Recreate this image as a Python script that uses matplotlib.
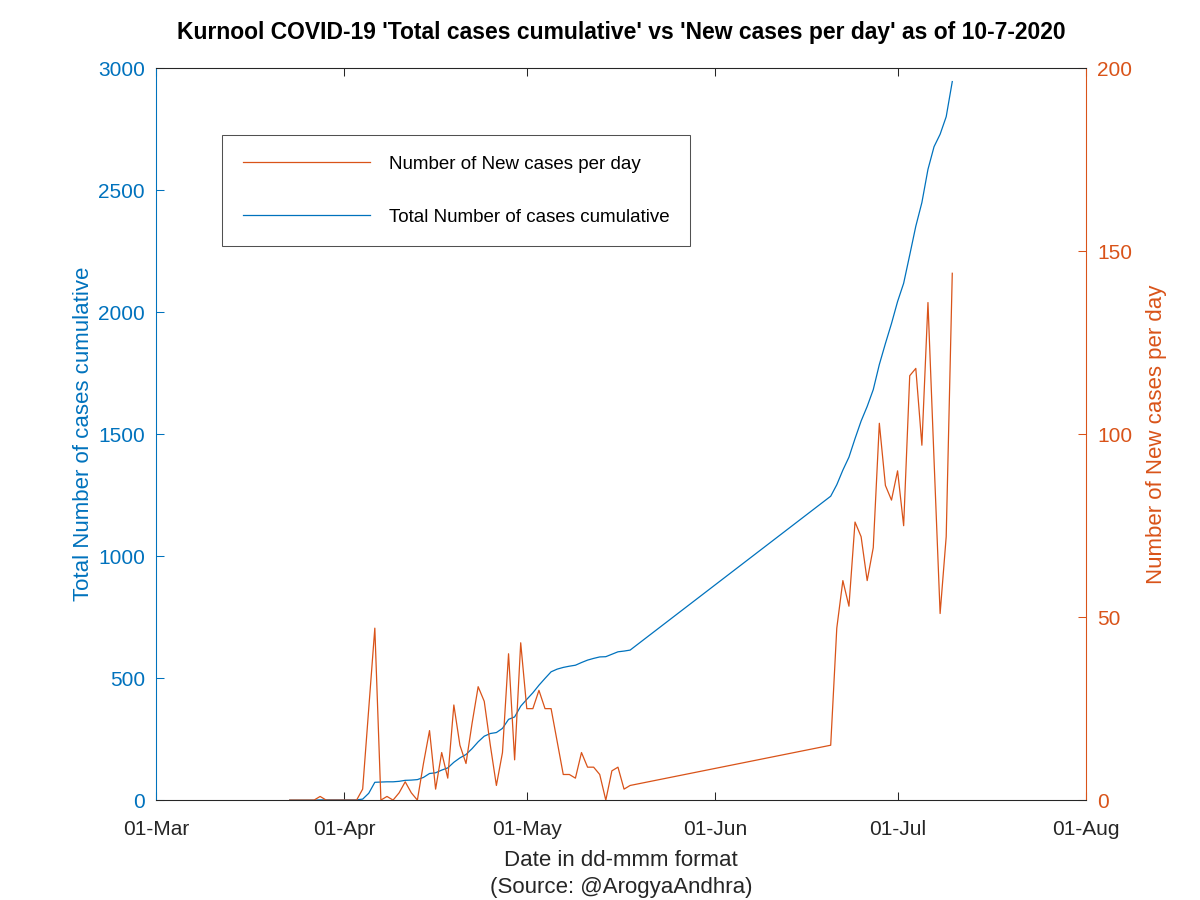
import pandas as pd
import matplotlib
matplotlib.use('Agg')
import matplotlib.pyplot as plt
import matplotlib.dates as mdates

plt.rcParams['font.family'] = ['Liberation Sans', 'DejaVu Sans']

# daily data, two blocks of dates (gap between 18-May and 20-Jun in the source)
dates_a = pd.date_range('2020-03-23', '2020-05-18', freq='D')
dates_b = pd.date_range('2020-06-20', '2020-07-10', freq='D')

new_cases_a = [0, 0, 0, 0, 0, 1, 0, 0, 0,
               0, 0, 0, 3, 25, 47, 0, 1, 0, 2, 5, 2, 0, 10, 19, 3, 13, 6, 26, 15,
               10, 21, 31, 27, 15, 4, 13, 40, 11, 43,
               25, 25, 30, 25, 25, 16, 7, 7, 6, 13, 9, 9, 7, 0, 8, 9, 3, 4]
new_cases_b = [15, 47, 60, 53, 76, 72, 60, 69, 103, 86, 82, 90, 75, 116, 118,
               97, 136, 93, 51, 72, 144]

total_a = [0, 0, 0, 0, 0, 1, 1, 1, 1,
           1, 1, 1, 4, 28, 73, 74, 75, 75, 77, 81, 82, 84, 93, 109, 112, 123, 132,
           155, 173, 187, 211, 239, 262, 273, 277, 294, 331, 341, 385,
           413, 440, 471, 499, 526, 537, 544, 549, 553, 564, 574, 581, 587, 588,
           598, 608, 611, 615]
total_b = [1246, 1293, 1353, 1406, 1482, 1554, 1614, 1683, 1786, 1872, 1954,
           2044, 2119, 2235, 2353, 2450, 2586, 2679, 2730, 2802, 2946]

dates = dates_a.append(dates_b)
new_cases = new_cases_a + new_cases_b
total = total_a + total_b

blue = '#0072BD'
orange = '#D95319'
dark = '#262626'

fig = plt.figure(figsize=(12, 9), dpi=100)
ax = fig.add_axes([0.13, 0.111, 0.775, 0.813])
ax2 = ax.twinx()

l_total, = ax.plot(dates, total, color=blue, lw=0.9,
                   label='Total Number of cases cumulative')
l_new, = ax2.plot(dates, new_cases, color=orange, lw=0.9,
                  label='Number of New cases per day')

ax.set_xlim(pd.Timestamp('2020-03-01'), pd.Timestamp('2020-08-01'))
ax.set_ylim(0, 3000)
ax2.set_ylim(0, 200)
ax.set_yticks(range(0, 3001, 500))
ax2.set_yticks(range(0, 201, 50))

ax.xaxis.set_major_locator(mdates.MonthLocator())
ax.xaxis.set_major_formatter(mdates.DateFormatter('%d-%b'))

ax.tick_params(axis='x', direction='in', length=6, width=0.75, colors=dark,
               labelsize=15, top=True, pad=14)
ax.tick_params(axis='y', direction='in', length=6, width=0.75, colors=blue,
               labelsize=15, pad=8)
ax2.tick_params(axis='y', direction='in', length=6, width=0.75, colors=orange,
                labelsize=15, pad=8)
ax2.tick_params(axis='x', top=False)

for a in (ax, ax2):
    for s in a.spines.values():
        s.set_linewidth(0.75)
        s.set_color(dark)
    a.spines['left'].set_color(blue)
    a.spines['right'].set_color(orange)

ax.set_xlabel('Date in dd-mmm format\n(Source: @ArogyaAndhra)', fontsize=16,
              color=dark, labelpad=8, linespacing=1.4)
ax.set_ylabel('Total Number of cases cumulative', fontsize=16, color=blue,
              labelpad=3)
ax2.set_ylabel('Number of New cases per day', fontsize=16, color=orange,
               labelpad=10)
ax.set_title("Kurnool COVID-19 'Total cases cumulative' vs 'New cases per day' as of 10-7-2020",
             fontsize=16.5, fontweight='bold', color='black', pad=21)

leg = fig.legend(handles=[l_new, l_total], loc='upper left',
                 bbox_to_anchor=(0.185, 0.85), fontsize=13.5, frameon=True,
                 fancybox=False, edgecolor=dark, handlelength=6.8,
                 handletextpad=1.0, labelspacing=1.9, borderpad=1.1,
                 borderaxespad=0)
leg.get_frame().set_linewidth(0.75)

fig.savefig('out.png', dpi=100)
